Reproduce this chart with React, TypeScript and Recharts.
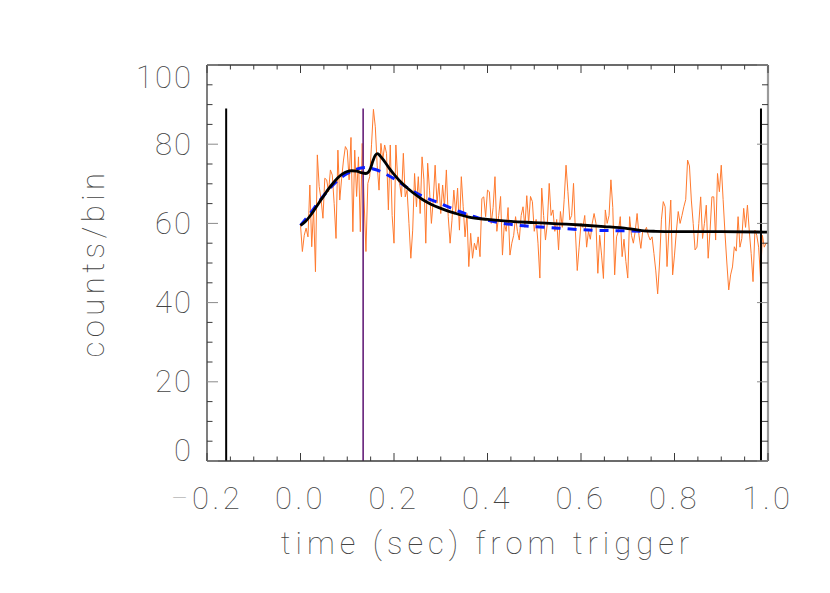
import React from 'react';
import { ComposedChart, Line, XAxis, YAxis, ReferenceLine } from 'recharts';

// ---- data ----
const binWidth = 0.004; // seconds per bin, first bin at t = 0
const counts = [
  59.6, 52.9, 57, 58.8, 56.6, 69.7, 54.1, 63.8, 47.8, 77.3,
  69.3, 66, 61.3, 71.4, 71.0, 68.0, 73.5, 72.2, 65, 56.2,
  78.5, 65.9, 71.4, 76, 79.4, 78.5, 71.0, 81.7, 57.9, 78.5,
  66.8, 76.8, 57.9, 80.2, 65.9, 52.9, 70.1, 71.8, 80, 88.8,
  84.4, 74.7, 68.4, 80.2, 76.0, 79.8, 77.7, 63.4, 79.8, 62,
  55.0, 79.8, 71.0, 70.1, 66.7, 77.7, 66.7, 68.4, 60.0, 51.2,
  58.3, 72.6, 64.2, 71.8, 62.5, 76.8, 71.0, 55.0, 75.2, 68.4,
  60.0, 65.9, 74.7, 65.1, 70.1, 62.5, 69.7, 64.2, 73.5, 61.7,
  55.0, 60.8, 68.4, 62.5, 68.9, 58.3, 71.8, 64.2, 56.6, 62.5,
  49.1, 57.5, 51.2, 55.0, 53.3, 56.6, 51.6, 66.3, 66.7, 61.7,
  68.4, 68.0, 60, 64, 71.8, 58, 62, 66.8, 52.0, 60,
  58, 64, 52.0, 55, 57, 61.7, 58, 55.8, 62, 64.2,
  59, 67, 60, 66.8, 65.5, 58, 61, 55, 46.2, 68.9,
  62, 55.8, 60, 70.1, 62, 63.4, 58, 61, 53.3, 63.0,
  59, 66, 74.7, 68, 60.9, 62, 70.1, 58, 48.1, 54,
  60.0, 59, 62, 54, 58, 56, 60, 62.5, 60, 47.4,
  57, 52, 46.1, 63.4, 60, 62, 71, 64, 47, 56.6,
  58, 61.7, 51.6, 56, 50.4, 46.2, 61.7, 57, 55, 58,
  62.5, 57, 53.7, 58, 57.9, 59, 57, 55.8, 56.6, 52.4,
  48, 42.2, 50, 60.9, 65.5, 64.2, 49.1, 58, 65.9, 47,
  52, 58, 63, 60, 62, 64.2, 66, 76, 74.5, 65.9,
  60, 53.3, 54, 60, 66.7, 56.2, 60, 64.6, 51.2, 58,
  66.7, 66.7, 55.8, 72.6, 68, 74.7, 66, 57.5, 50, 43.2,
  47, 49, 54.1, 53, 61.7, 54, 56.2, 63.8, 59, 64.6,
  58, 52.4, 45.3, 58.3, 57, 54, 46.2, 57, 54, 55,
  54.6,
];

// black model curve
const fitTimes = [0, 0.01, 0.02, 0.03, 0.04, 0.05, 0.06, 0.07, 0.08, 0.09, 0.1, 0.11, 0.12, 0.13, 0.14, 0.145, 0.15, 0.155, 0.16, 0.165, 0.17, 0.18, 0.19, 0.2, 0.22, 0.24, 0.26, 0.28, 0.3, 0.33, 0.36, 0.4, 0.45, 0.5, 0.55, 0.6, 0.65, 0.7, 0.73, 0.76, 0.8, 0.9, 1.0];
const fitValues = [59.5, 60.4, 61.8, 63.5, 65.3, 67.0, 68.7, 70.2, 71.5, 72.5, 73.1, 73.3, 73.2, 72.8, 72.6, 72.9, 74.0, 75.8, 77.2, 77.6, 77.1, 75.6, 73.9, 72.4, 69.8, 67.8, 66.1, 64.8, 63.8, 62.6, 61.6, 61.0, 60.5, 60.2, 59.9, 59.6, 59.2, 58.7, 58.2, 58.0, 57.9, 57.9, 57.8];

// blue dashed model curve
const altTimes = [0, 0.02, 0.04, 0.06, 0.08, 0.1, 0.12, 0.14, 0.16, 0.18, 0.2, 0.23, 0.26, 0.3, 0.34, 0.38, 0.42, 0.46, 0.5, 0.55, 0.6, 0.65, 0.7, 0.73];
const altValues = [59.5, 62.4, 65.6, 68.5, 70.9, 72.6, 73.7, 74.1, 73.6, 72.6, 71.3, 68.9, 66.9, 65.0, 63.0, 61.4, 60.3, 59.6, 59.2, 58.8, 58.4, 58.2, 58.1, 58.0];

const markerTimes = [-0.159, 0.985];
const triggerTime = 0.134;
const markerTop = 89;

const xTicks = [-0.2, -0.15, -0.1, -0.05, 0, 0.05, 0.1, 0.15, 0.2, 0.25, 0.3, 0.35, 0.4, 0.45, 0.5, 0.55, 0.6, 0.65, 0.7, 0.75, 0.8, 0.85, 0.9, 0.95, 1.0];
const xMajor = [-0.2, 0, 0.2, 0.4, 0.6, 0.8, 1.0];
const yTicks = [0, 5, 10, 15, 20, 25, 30, 35, 40, 45, 50, 55, 60, 65, 70, 75, 80, 85, 90, 95, 100];
const yMajor = [0, 20, 40, 60, 80, 100];

const countsData = counts.map((c, i) => ({ t: +(i * binWidth).toFixed(3), v: c }));
const fitData = fitTimes.map((t, i) => ({ t, v: fitValues[i] }));
const altData = altTimes.map((t, i) => ({ t, v: altValues[i] }));

// ---- styles ----
const FONT = 'Roboto, "DejaVu Sans", sans-serif';
const WEIGHT = 100;
const TEXT = '#444444';
const AXIS = '#3a3a3a';

const isMajorX = (v: number) => xMajor.some((m) => Math.abs(m - v) < 1e-6);
const isMajorY = (v: number) => yMajor.includes(v);

const BottomTick = (props: any) => {
  const { x, y, payload } = props;
  const v = payload.value as number;
  const major = isMajorX(v);
  const neg = v < 0;
  const txt = Math.abs(v).toFixed(1);
  return (
    <g>
      <line x1={x} x2={x} y1={y} y2={y - (major ? 8 : 4.5)} stroke={AXIS} strokeWidth={1} />
      {major && (
        <text x={x} y={y + 37} textAnchor="middle" dominantBaseline="central" fontFamily={FONT} fontWeight={WEIGHT} fontSize={31} fill={TEXT} letterSpacing={3.5}>
          {neg && <tspan fill="#b5b5b5">−</tspan>}
          {txt}
        </text>
      )}
    </g>
  );
};

const TopTick = (props: any) => {
  const { x, y, payload } = props;
  const major = isMajorX(payload.value);
  return <line x1={x} x2={x} y1={y} y2={y + (major ? 8 : 4.5)} stroke={AXIS} strokeWidth={1} />;
};

const LeftTick = (props: any) => {
  const { x, y, payload } = props;
  const v = payload.value as number;
  const major = isMajorY(v);
  const dy = v === 0 ? -11 : v === 100 ? 12 : 0;
  return (
    <g>
      <line x1={x} x2={x + (major ? 11 : 5.5)} y1={y} y2={y} stroke={major ? '#8a8a8a' : AXIS} strokeWidth={1} />
      {major && (
        <text x={x - 14} y={y + dy} textAnchor="end" dominantBaseline="central" fontFamily={FONT} fontWeight={WEIGHT} fontSize={31} fill={TEXT} letterSpacing={2}>
          {String(v)}
        </text>
      )}
    </g>
  );
};

const RightTick = (props: any) => {
  const { x, y, payload } = props;
  const major = isMajorY(payload.value);
  return <line x1={x} x2={x - (major ? 11 : 6)} y1={y} y2={y} stroke={major ? '#8a8a8a' : AXIS} strokeWidth={1} />;
};

const YTitle = (props: any) => {
  const vb = props.viewBox || {};
  const cx = (vb.x ?? 147) - 54;
  const cy = (vb.y ?? 65) + (vb.height ?? 396) / 2;
  return (
    <text x={cx} y={cy} transform={`rotate(-90 ${cx} ${cy})`} textAnchor="middle" dominantBaseline="central" fontFamily={FONT} fontWeight={WEIGHT} fontSize={31} fill={TEXT} letterSpacing={4.5}>
      counts/bin
    </text>
  );
};

const XTitle = (props: any) => {
  const vb = props.viewBox || {};
  const cx = (vb.x ?? 207) + (vb.width ?? 561) / 2;
  const cy = (vb.y ?? 461) + 82;
  return (
    <text x={cx} y={cy} textAnchor="middle" dominantBaseline="central" fontFamily={FONT} fontWeight={WEIGHT} fontSize={31} fill={TEXT} letterSpacing={5}>
      time (sec) from trigger
    </text>
  );
};

export default function App() {
  return (
    <div style={{ position: 'absolute', left: 0, top: 0, width: 830, height: 593, background: '#fff' }}>
      <ComposedChart width={830} height={593} margin={{ top: 60, right: 52, bottom: 92, left: 147 }}>
        <XAxis
          dataKey="t"
          type="number"
          domain={[-0.2, 1.0]}
          ticks={xTicks}
          interval={0}
          allowDataOverflow
          height={40}
          tickSize={0}
          tickMargin={0}
          tickLine={false}
          axisLine={{ stroke: AXIS, strokeWidth: 1.3 }}
          tick={<BottomTick />}
          label={<XTitle />}
        />
        <XAxis
          xAxisId="top"
          orientation="top"
          dataKey="t"
          type="number"
          domain={[-0.2, 1.0]}
          ticks={xTicks}
          interval={0}
          allowDataOverflow
          height={5}
          tickSize={0}
          tickMargin={0}
          tickLine={false}
          axisLine={{ stroke: AXIS, strokeWidth: 1.3 }}
          tick={<TopTick />}
        />
        <YAxis
          type="number"
          domain={[0, 100]}
          ticks={yTicks}
          interval={0}
          allowDataOverflow
          width={60}
          tickSize={0}
          tickMargin={0}
          tickLine={false}
          axisLine={{ stroke: AXIS, strokeWidth: 1.3 }}
          tick={<LeftTick />}
          label={<YTitle />}
        />
        <YAxis
          yAxisId="right"
          orientation="right"
          type="number"
          domain={[0, 100]}
          ticks={yTicks}
          interval={0}
          allowDataOverflow
          width={10}
          tickSize={0}
          tickMargin={0}
          tickLine={false}
          axisLine={{ stroke: '#9a9a9a', strokeWidth: 2.2 }}
          tick={<RightTick />}
        />
        <Line data={countsData} dataKey="v" type="linear" stroke="#ff7a2e" strokeWidth={1} dot={false} activeDot={false} isAnimationActive={false} />
        {markerTimes.map((t) => (
          <ReferenceLine key={t} segment={[{ x: t, y: 0 }, { x: t, y: markerTop }]} stroke="#000" strokeWidth={2} ifOverflow="extendDomain" />
        ))}
        <ReferenceLine segment={[{ x: triggerTime, y: 0 }, { x: triggerTime, y: markerTop }]} stroke="#6e2c82" strokeWidth={1.7} />
        <Line data={altData} dataKey="v" type="monotone" stroke="#0a1eff" strokeWidth={3} strokeDasharray="9 7" dot={false} activeDot={false} isAnimationActive={false} />
        <Line data={fitData} dataKey="v" type="monotone" stroke="#000" strokeWidth={2.8} dot={false} activeDot={false} isAnimationActive={false} />
      </ComposedChart>
    </div>
  );
}
